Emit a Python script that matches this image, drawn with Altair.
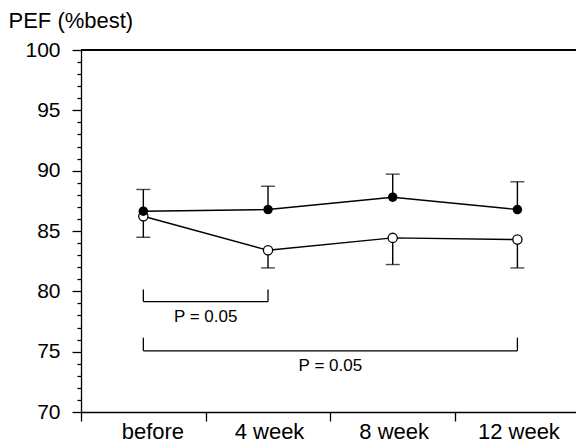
import altair as alt
import pandas as pd

# ---- data ----
categories = ["before", "4 week", "8 week", "12 week"]
filled_mean = [86.64, 86.78, 87.8, 86.78]
filled_upper = [88.44, 88.71, 89.71, 89.08]
open_mean = [86.22, 83.4, 84.43, 84.29]
open_lower = [84.48, 81.94, 82.22, 81.94]

bracket_from = [0, 0]
bracket_to = [1, 3]
bracket_top = [80.15, 76.16]
bracket_bottom = [79.15, 75.07]
bracket_label_y = [77.85, 73.85]
bracket_labels = ["P = 0.05", "P = 0.05"]

y_ticks = list(range(70, 101))
x_tick_values = [-0.5, 0, 0.5, 1, 1.5, 2, 2.5, 3]

FONT = "Liberation Sans"

idx = list(range(len(categories)))
df = pd.DataFrame({
    "idx": idx,
    "cat": categories,
    "f_mean": filled_mean,
    "f_up": filled_upper,
    "o_mean": open_mean,
    "o_lo": open_lower,
})
br = pd.DataFrame({
    "x0": bracket_from,
    "x1": bracket_to,
    "top": bracket_top,
    "bot": bracket_bottom,
    "ly": bracket_label_y,
    "label": bracket_labels,
})

label_expr = " : ".join(
    [f"datum.value === {i} ? '{c}'" for i, c in enumerate(categories)]
) + " : ''"

x_scale = alt.Scale(domain=[-0.5, 3.47], nice=False, zero=False)
y_scale = alt.Scale(domain=[70, 100], nice=False, zero=False)

x_axis = alt.Axis(
    values=x_tick_values,
    labelExpr=label_expr,
    title=None,
    grid=False,
    tickSize=9,
    tickOpacity={"condition": {"test": "datum.value % 1 === 0", "value": 0}, "value": 1},
    labelOffset={"condition": {"test": "datum.value === 0", "value": 9}, "value": 1},
    labelPadding=0,
    labelFontSize=22,
    labelFont=FONT,
    labelColor="black",
    labelOverlap=False,
    labelFlush=False,
    labelBound=False,
    domainColor="black",
    tickColor="black",
    domainWidth=1.3,
    tickWidth=1.3,
)
y_axis = alt.Axis(
    values=y_ticks,
    labelExpr="datum.value % 5 === 0 ? datum.label : ''",
    grid=False,
    tickSize={"condition": {"test": "datum.value % 5 === 0", "value": 9}, "value": 4},
    labelPadding=12,
    labelFontSize=21,
    labelFont=FONT,
    labelColor="black",
    labelOverlap=False,
    labelFlush=False,
    labelBound=False,
    domainColor="black",
    tickColor="black",
    domainWidth=1.3,
    tickWidth=1.3,
    title="PEF (%best)",
    titleAngle=0,
    titleAlign="left",
    titleBaseline="alphabetic",
    titleX=-73,
    titleY=-23,
    titleFontSize=22,
    titleFont=FONT,
    titleFontWeight="normal",
    titleColor="black",
)


def XE(field):
    return alt.X(field, type="quantitative", scale=x_scale, axis=x_axis)


def YE(field):
    return alt.Y(field, type="quantitative", scale=y_scale, axis=y_axis)


base = alt.Chart(df)

top_line = base.mark_rule(color="black", strokeWidth=1.3).encode(
    y=alt.datum(100, type="quantitative", scale=y_scale, axis=y_axis)
)

open_line = base.mark_line(color="black", strokeWidth=1.4).encode(
    x=XE("idx"), y=YE("o_mean")
)
filled_line = base.mark_line(color="black", strokeWidth=1.4).encode(
    x=XE("idx"), y=YE("f_mean")
)
open_err = base.mark_rule(color="black", strokeWidth=1.4).encode(
    x=XE("idx"), y=YE("o_mean"), y2="o_lo:Q"
)
open_cap = base.mark_tick(color="black", orient="horizontal", size=14, thickness=1.4).encode(
    x=XE("idx"), y=YE("o_lo")
)
filled_err = base.mark_rule(color="black", strokeWidth=1.4).encode(
    x=XE("idx"), y=YE("f_mean"), y2="f_up:Q"
)
filled_cap = base.mark_tick(color="black", orient="horizontal", size=14, thickness=1.4).encode(
    x=XE("idx"), y=YE("f_up")
)
open_pts = base.mark_point(
    shape="circle", size=85, filled=True, fill="white", stroke="black", strokeWidth=1.3, opacity=1
).encode(x=XE("idx"), y=YE("o_mean"))
filled_pts = base.mark_point(
    shape="circle", size=90, filled=True, color="black", opacity=1
).encode(x=XE("idx"), y=YE("f_mean"))

bbase = alt.Chart(br)
br_left = bbase.mark_rule(color="black", strokeWidth=1.3).encode(
    x=XE("x0"), y=YE("top"), y2="bot:Q"
)
br_right = bbase.mark_rule(color="black", strokeWidth=1.3).encode(
    x=XE("x1"), y=YE("top"), y2="bot:Q"
)
br_horiz = bbase.mark_rule(color="black", strokeWidth=1.3).encode(
    x=XE("x0"), x2="x1:Q", y=YE("bot")
)
br_text = bbase.transform_calculate(mid="(datum.x0 + datum.x1) / 2").mark_text(
    font=FONT, fontSize=17, color="black", baseline="middle", align="center"
).encode(
    x=XE("mid"), y=YE("ly"), text="label:N"
)

chart = alt.layer(
    top_line,
    open_line, filled_line,
    open_err, open_cap, filled_err, filled_cap,
    open_pts, filled_pts,
    br_left, br_right, br_horiz, br_text,
).properties(
    width=495,
    height=362,
    autosize=alt.AutoSizeParams(type="none"),
    padding={"left": 81, "top": 50, "right": 0, "bottom": 34},
    background="white",
).configure_view(strokeWidth=0)

chart.save("out.html", embed_options={"renderer": "svg", "actions": False})
